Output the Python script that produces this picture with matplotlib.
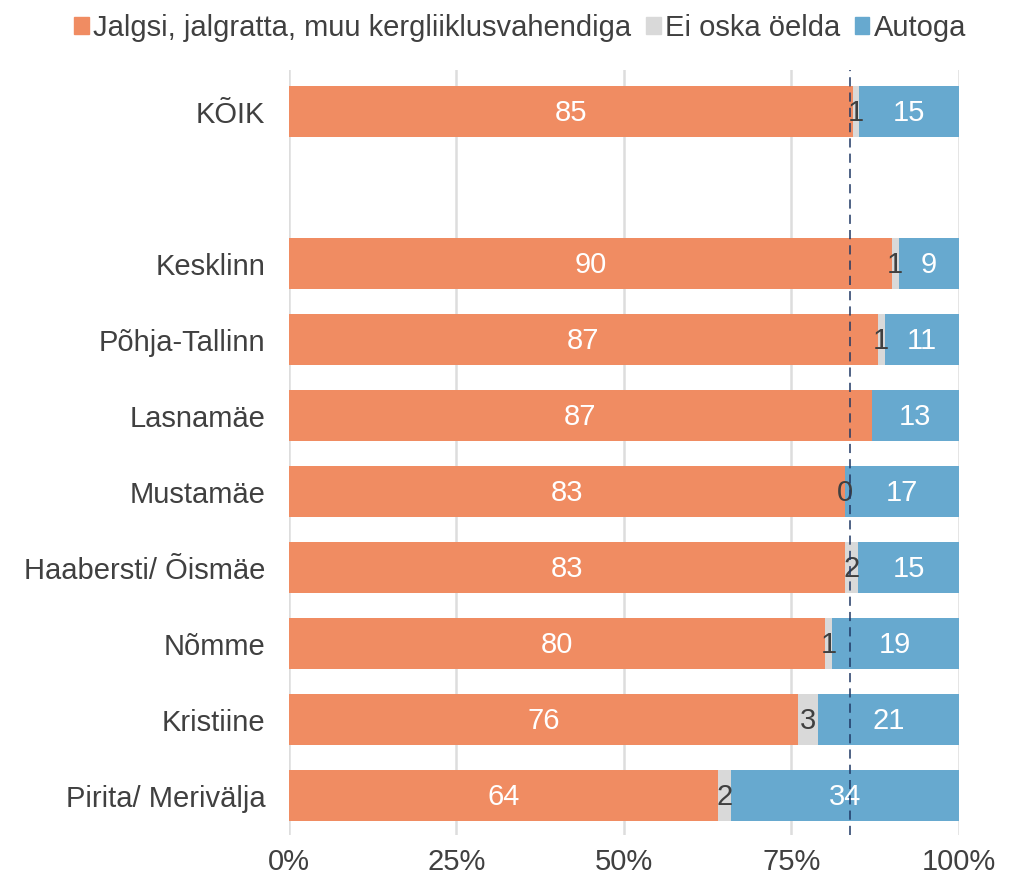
import matplotlib; matplotlib.use("Agg")
import matplotlib.pyplot as plt
import matplotlib.ticker as ticker
import matplotlib.patches as mpatches
import numpy as np

plt.rcParams["font.family"] = ["Liberation Sans", "DejaVu Sans"]

categories = ["KÕIK", "", "Kesklinn", "Põhja-Tallinn", "Lasnamäe", "Mustamäe",
              "Haabersti/ Õismäe", "Nõmme", "Kristiine", "Pirita/ Merivälja"]
walk  = [85, np.nan, 90, 87, 87, 83, 83, 80, 76, 64]
dunno = [1, np.nan, 1, 1, np.nan, 0, 2, 1, 3, 2]
car   = [15, np.nan, 9, 11, 13, 17, 15, 19, 21, 34]
series_names = ["Jalgsi, jalgratta, muu kergliiklusvahendiga", "Ei oska öelda", "Autoga"]
ref_line = 83.8  # dashed reference line, percent

ORANGE = "#F08C62"; GREY = "#D9D9D9"; BLUE = "#67A9CF"; TXT = "#404040"
colors = [ORANGE, GREY, BLUE]
label_colors = ["white", TXT, "white"]
FS = 21

data = np.array([walk, dunno, car], dtype=float)
filled = np.nan_to_num(data)
totals = filled.sum(axis=0)
totals[totals == 0] = 1
shares = filled / totals

fig = plt.figure(figsize=(10.18, 8.75), dpi=100)
ax = fig.add_axes([0.2839, 0.0457, 0.942 - 0.2839, 0.92 - 0.0457])

y = np.arange(len(categories))
left = np.zeros(len(categories))
for i in range(3):
    ax.barh(y, shares[i], left=left, height=0.67, color=colors[i], zorder=2,
            label=series_names[i])
    for j in range(len(categories)):
        if np.isnan(data[i, j]):
            continue
        ax.text(left[j] + shares[i, j] / 2, y[j] + 0.02, f"{data[i, j]:.0f}",
                ha="center", va="center", color=label_colors[i], fontsize=FS, zorder=3)
    left = left + shares[i]

ax.axvline(ref_line / 100, color="#1F3864", linestyle=(0, (6, 4)), linewidth=1.1, zorder=4)

ax.set_xlim(0, 1)
ax.set_ylim(9.52, -0.55)
ax.set_yticks(y)
ax.set_yticklabels(categories, fontsize=FS, color=TXT)
ax.xaxis.set_major_locator(ticker.MultipleLocator(0.25))
ax.xaxis.set_major_formatter(ticker.FuncFormatter(lambda v, p: f"{v*100:.0f}%"))
ax.tick_params(axis="x", labelsize=FS, labelcolor=TXT, length=0, pad=9)
ax.tick_params(axis="y", length=0, pad=17)
ax.grid(axis="x", color="#DDDDDD", linewidth=1.8, zorder=0)
ax.set_axisbelow(True)
for s in ax.spines.values():
    s.set_visible(False)

handles = [mpatches.Patch(color=c, label=n) for c, n in zip(colors, series_names)]
fig.legend(handles=handles, loc="upper center", bbox_to_anchor=(0.511, 1.014), ncol=3,
           frameon=False, fontsize=FS, handlelength=0.5, handleheight=0.5,
           handletextpad=0.15, columnspacing=0.5, labelcolor=TXT)

fig.savefig("out.png", dpi=100)
